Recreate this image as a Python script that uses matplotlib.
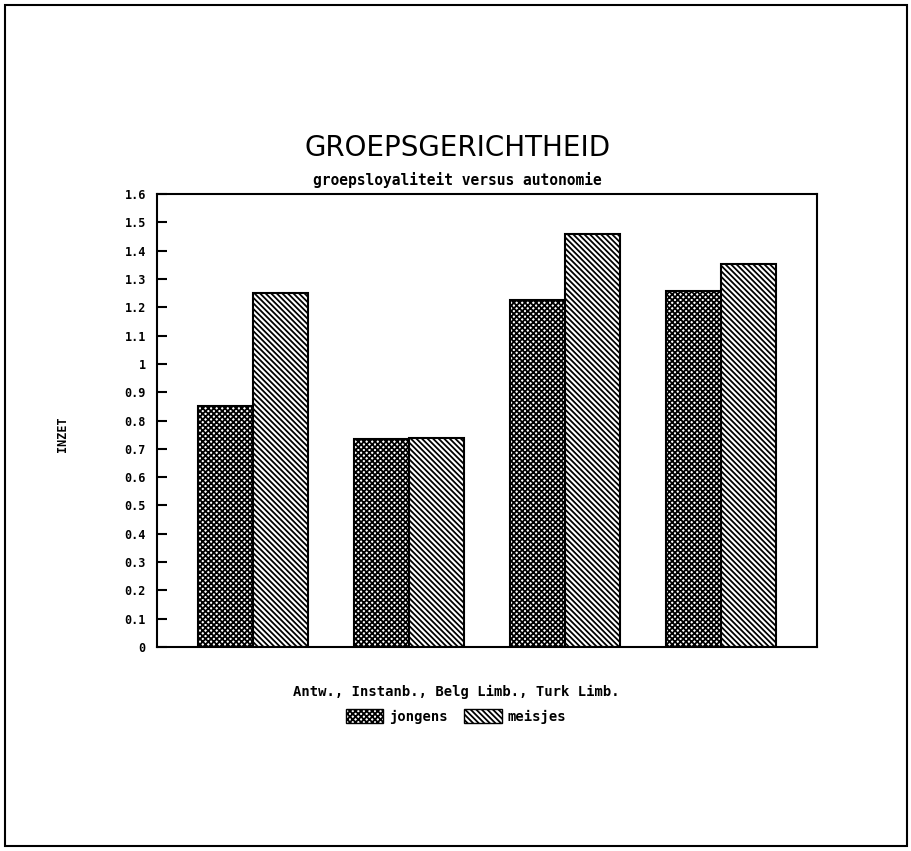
import numpy as np
import matplotlib.pyplot as plt
from matplotlib.patches import Rectangle, Patch

# data
groups = ['Antw.', 'Instanb.', 'Belg Limb.', 'Turk Limb.']
jongens = [0.85, 0.735, 1.225, 1.258]
meisjes = [1.25, 0.74, 1.458, 1.353]
yticks = [0, 0.1, 0.2, 0.3, 0.4, 0.5, 0.6, 0.7, 0.8, 0.9, 1, 1.1, 1.2, 1.3, 1.4, 1.5, 1.6]
ytick_labels = ['0', '0.1', '0.2', '0.3', '0.4', '0.5', '0.6', '0.7', '0.8', '0.9',
                '1', '1.1', '1.2', '1.3', '1.4', '1.5', '1.6']

plt.rcParams['hatch.linewidth'] = 1.3
mono = 'DejaVu Sans Mono'
h_j = 'xxxxxx'
h_m = '\\' * 6

fig = plt.figure(figsize=(9.12, 8.51), dpi=100)
ax = fig.add_axes([0.172, 0.2397, 0.724, 0.5323])

x = np.arange(len(groups))
w = 0.353
ax.bar(x - w / 2, jongens, w, facecolor='white', edgecolor='black', hatch=h_j, linewidth=1.5)
ax.bar(x + w / 2, meisjes, w, facecolor='white', edgecolor='black', hatch=h_m, linewidth=1.5)

ax.set_xlim(-0.62, 3.62)
ax.set_ylim(0, 1.6)
ax.set_xticks([])
ax.set_yticks(yticks)
ax.set_yticklabels(ytick_labels, fontsize=8.5, fontweight='bold', family=mono)
ax.tick_params(axis='y', direction='in', length=7, width=1.5, pad=8)
for s in ax.spines.values():
    s.set_linewidth(1.5)

# titles and labels
fig.text(0.502, 0.826, 'GROEPSGERICHTHEID', ha='center', va='center', fontsize=20)
fig.text(0.502, 0.789, 'groepsloyaliteit versus autonomie', ha='center', va='center',
         fontsize=10.5, fontweight='bold', family=mono)
fig.text(0.068, 0.49, 'INZET', rotation=90, ha='center', va='center', fontsize=8.5,
         fontweight='bold', family=mono)
fig.text(0.5, 0.187, ', '.join(groups), ha='center', va='center', fontsize=10,
         fontweight='bold', family=mono)

handles = [Patch(facecolor='white', edgecolor='black', hatch=h_j, label='jongens'),
           Patch(facecolor='white', edgecolor='black', hatch=h_m, label='meisjes')]
fig.legend(handles=handles, loc='center', bbox_to_anchor=(0.5, 0.158), ncol=2,
           frameon=False, prop={'size': 10, 'weight': 'bold', 'family': mono},
           handlelength=2.7, handleheight=1.1, columnspacing=1.2, handletextpad=0.4)

# outer frame
fig.patches.append(Rectangle((0.005, 0.006), 0.989, 0.988, transform=fig.transFigure,
                             fill=False, edgecolor='black', linewidth=1.5))

fig.savefig('out.png', dpi=100)
